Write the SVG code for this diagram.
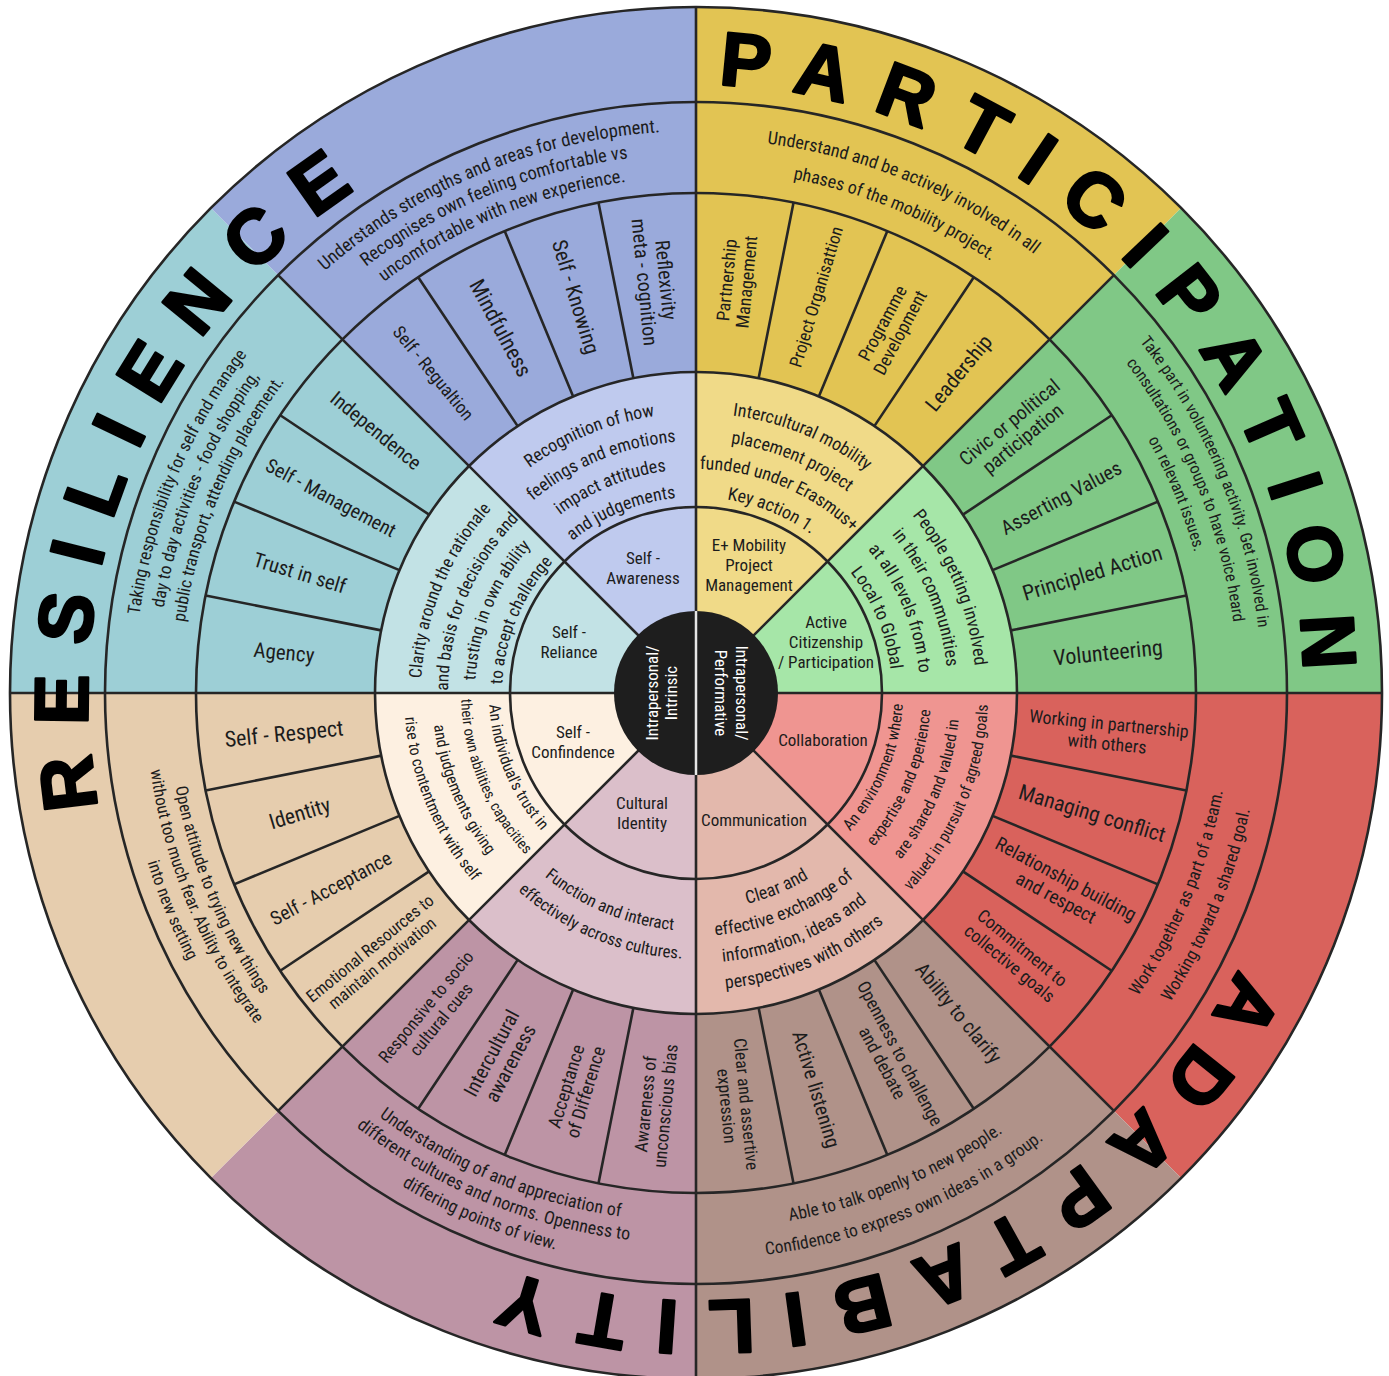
<svg xmlns="http://www.w3.org/2000/svg" width="1389" height="1376" viewBox="0 0 1389 1376">
<style>
.t{font-family:'Liberation Sans Narrow','Roboto Condensed','DejaVu Sans Condensed','Liberation Sans',Arial,sans-serif;fill:#1c1c1c}
.c{text-anchor:middle}
.big{font-family:'Liberation Sans',Arial,sans-serif;font-weight:bold;font-size:76px;letter-spacing:28px;fill:#000;stroke:#000;stroke-width:2.6;stroke-linejoin:round;text-anchor:middle}
.ln{stroke:#262626;stroke-width:2.6;fill:none}
.w{font-family:'Liberation Sans Narrow','Roboto Condensed','Liberation Sans',Arial,sans-serif;fill:#fff;font-size:17px;text-anchor:middle}
</style>
<defs>
<path id="cw608" d="M0,608 A608,608 0 0 1 0,-608 A608,608 0 0 1 0,608 A608,608 0 0 1 0,-608"/>
<path id="cw566" d="M0,566 A566,566 0 0 1 0,-566 A566,566 0 0 1 0,566 A566,566 0 0 1 0,-566"/>
<path id="cw562" d="M0,562 A562,562 0 0 1 0,-562 A562,562 0 0 1 0,562 A562,562 0 0 1 0,-562"/>
<path id="cw554" d="M0,554 A554,554 0 0 1 0,-554 A554,554 0 0 1 0,554 A554,554 0 0 1 0,-554"/>
<path id="cw542" d="M0,542 A542,542 0 0 1 0,-542 A542,542 0 0 1 0,542 A542,542 0 0 1 0,-542"/>
<path id="cw539" d="M0,539 A539,539 0 0 1 0,-539 A539,539 0 0 1 0,539 A539,539 0 0 1 0,-539"/>
<path id="cw523" d="M0,523 A523,523 0 0 1 0,-523 A523,523 0 0 1 0,523 A523,523 0 0 1 0,-523"/>
<path id="cw518" d="M0,518 A518,518 0 0 1 0,-518 A518,518 0 0 1 0,518 A518,518 0 0 1 0,-518"/>
<path id="cw516" d="M0,516 A516,516 0 0 1 0,-516 A516,516 0 0 1 0,516 A516,516 0 0 1 0,-516"/>
<path id="cw280" d="M0,280 A280,280 0 0 1 0,-280 A280,280 0 0 1 0,280 A280,280 0 0 1 0,-280"/>
<path id="cw252" d="M0,252 A252,252 0 0 1 0,-252 A252,252 0 0 1 0,252 A252,252 0 0 1 0,-252"/>
<path id="cw224" d="M0,224 A224,224 0 0 1 0,-224 A224,224 0 0 1 0,224 A224,224 0 0 1 0,-224"/>
<path id="cw196" d="M0,196 A196,196 0 0 1 0,-196 A196,196 0 0 1 0,196 A196,196 0 0 1 0,-196"/>
<path id="cw275" d="M0,275 A275,275 0 0 1 0,-275 A275,275 0 0 1 0,275 A275,275 0 0 1 0,-275"/>
<path id="cw248" d="M0,248 A248,248 0 0 1 0,-248 A248,248 0 0 1 0,248 A248,248 0 0 1 0,-248"/>
<path id="cw221" d="M0,221 A221,221 0 0 1 0,-221 A221,221 0 0 1 0,221 A221,221 0 0 1 0,-221"/>
<path id="cw194" d="M0,194 A194,194 0 0 1 0,-194 A194,194 0 0 1 0,194 A194,194 0 0 1 0,-194"/>
<path id="ccw536" d="M0,-536 A536,536 0 0 0 0,536 A536,536 0 0 0 0,-536 A536,536 0 0 0 0,536"/>
<path id="ccw566" d="M0,-566 A566,566 0 0 0 0,566 A566,566 0 0 0 0,-566 A566,566 0 0 0 0,566"/>
<path id="ccw529" d="M0,-529 A529,529 0 0 0 0,529 A529,529 0 0 0 0,-529 A529,529 0 0 0 0,529"/>
<path id="ccw551" d="M0,-551 A551,551 0 0 0 0,551 A551,551 0 0 0 0,-551 A551,551 0 0 0 0,551"/>
<path id="ccw574" d="M0,-574 A574,574 0 0 0 0,574 A574,574 0 0 0 0,-574 A574,574 0 0 0 0,574"/>
<path id="ccw207" d="M0,-207 A207,207 0 0 0 0,207 A207,207 0 0 0 0,-207 A207,207 0 0 0 0,207"/>
<path id="ccw235" d="M0,-235 A235,235 0 0 0 0,235 A235,235 0 0 0 0,-235 A235,235 0 0 0 0,235"/>
<path id="ccw264" d="M0,-264 A264,264 0 0 0 0,264 A264,264 0 0 0 0,-264 A264,264 0 0 0 0,264"/>
<path id="ccw292" d="M0,-292 A292,292 0 0 0 0,292 A292,292 0 0 0 0,-292 A292,292 0 0 0 0,292"/>
<path id="ccw217" d="M0,-217 A217,217 0 0 0 0,217 A217,217 0 0 0 0,-217 A217,217 0 0 0 0,217"/>
<path id="ccw243" d="M0,-243 A243,243 0 0 0 0,243 A243,243 0 0 0 0,-243 A243,243 0 0 0 0,243"/>
<path id="ccw270" d="M0,-270 A270,270 0 0 0 0,270 A270,270 0 0 0 0,-270 A270,270 0 0 0 0,270"/>
<path id="ccw297" d="M0,-297 A297,297 0 0 0 0,297 A297,297 0 0 0 0,-297 A297,297 0 0 0 0,297"/>
<path id="ccw238" d="M0,-238 A238,238 0 0 0 0,238 A238,238 0 0 0 0,-238 A238,238 0 0 0 0,238"/>
<path id="ccw266" d="M0,-266 A266,266 0 0 0 0,266 A266,266 0 0 0 0,-266 A266,266 0 0 0 0,266"/>
</defs>
<rect width="1389" height="1376" fill="#ffffff"/>
<g transform="translate(696,693)">

<g id="sec-e-mobility">
<path d="M0,0 L485.08,-485.08 A686,686 0 0 0 0,-686 Z" fill="#e2c453"/>
<path d="M0,0 L226.98,-226.98 A321,321 0 0 0 0,-321 Z" fill="#f0da88"/>
<text class="t c" font-size="17"><tspan x="53" y="-142">E+ Mobility</tspan><tspan x="53" y="-122">Project</tspan><tspan x="53" y="-102">Management</tspan></text>
<text class="t c" font-size="18"><textPath href="#cw280" startOffset="37.5%">Intercultural mobility</textPath></text>
<text class="t c" font-size="18"><textPath href="#cw252" startOffset="37.5%">placement project</textPath></text>
<text class="t c" font-size="18"><textPath href="#cw224" startOffset="37.5%">funded under Erasmus+</textPath></text>
<text class="t c" font-size="18"><textPath href="#cw196" startOffset="37.5%">Key action 1.</textPath></text>
<text class="t c" font-size="21" transform="translate(262.6,-320) rotate(-50.625)" y="7.3">Leadership</text>
<text class="t c" font-size="18" transform="translate(195.2,-365.1) rotate(-61.875)"><tspan x="0" y="-3.7">Programme</tspan><tspan x="0" y="16.3">Development</tspan></text>
<text class="t c" font-size="17.5" transform="translate(120.2,-396.2) rotate(-73.125)" y="6.1">Project Organisattion</text>
<text class="t c" font-size="18" transform="translate(40.6,-412) rotate(-84.375)"><tspan x="0" y="-3.7">Partnership</tspan><tspan x="0" y="16.3">Management</tspan></text>
<text class="t c" font-size="18"><textPath href="#cw554" startOffset="37.5%">Understand and be actively involved in all</textPath></text>
<text class="t c" font-size="18"><textPath href="#cw523" startOffset="37.5%">phases of the mobility project.</textPath></text>
</g>

<g id="sec-active-citizenship">
<path d="M0,0 L686,0 A686,686 0 0 0 485.08,-485.08 Z" fill="#80c886"/>
<path d="M0,0 L321,0 A321,321 0 0 0 226.98,-226.98 Z" fill="#a6e6a8"/>
<text class="t c" font-size="17"><tspan x="130" y="-65">Active</tspan><tspan x="130" y="-45">Citizenship</tspan><tspan x="130" y="-25">/ Participation</tspan></text>
<text class="t c" font-size="18"><textPath href="#cw280" startOffset="45.8333%">People getting involved</textPath></text>
<text class="t c" font-size="18"><textPath href="#cw252" startOffset="45.8333%">in their communities</textPath></text>
<text class="t c" font-size="18"><textPath href="#cw224" startOffset="45.8333%">at all levels from to</textPath></text>
<text class="t c" font-size="18"><textPath href="#cw196" startOffset="45.8333%">Local to Global</textPath></text>
<text class="t c" font-size="22" transform="translate(412,-40.6) rotate(-5.625)" y="7.7">Volunteering</text>
<text class="t c" font-size="21.5" transform="translate(396.2,-120.2) rotate(-16.875)" y="7.5">Principled Action</text>
<text class="t c" font-size="20" transform="translate(365.1,-195.2) rotate(-28.125)" y="7">Asserting Values</text>
<text class="t c" font-size="19.5" transform="translate(320,-262.6) rotate(-39.375)"><tspan x="0" y="-3.7">Civic or political</tspan><tspan x="0" y="17.3">participation</tspan></text>
<text class="t c" font-size="16.5"><textPath href="#cw566" startOffset="45.8333%">Take part in volunteering activity. Get involved in</textPath></text>
<text class="t c" font-size="16.5"><textPath href="#cw542" startOffset="45.8333%">consultations or groups to have voice heard</textPath></text>
<text class="t c" font-size="16.5"><textPath href="#cw518" startOffset="45.8333%">on relevant issues.</textPath></text>
</g>

<g id="sec-collaboration">
<path d="M0,0 L485.08,485.08 A686,686 0 0 0 686,0 Z" fill="#d9625c"/>
<path d="M0,0 L226.98,226.98 A321,321 0 0 0 321,0 Z" fill="#ef9591"/>
<text class="t c" font-size="17" x="127" y="53">Collaboration</text>
<text class="t c" font-size="16"><textPath href="#ccw207" startOffset="45.8333%">An environment where</textPath></text>
<text class="t c" font-size="16"><textPath href="#ccw235" startOffset="45.8333%">expertise and eperience</textPath></text>
<text class="t c" font-size="16"><textPath href="#ccw264" startOffset="45.8333%">are shared and valued in</textPath></text>
<text class="t c" font-size="16"><textPath href="#ccw292" startOffset="45.8333%">valued in pursuit of agreed goals</textPath></text>
<text class="t c" font-size="18" transform="translate(412,40.6) rotate(5.625)"><tspan x="0" y="-3.7">Working in partnership</tspan><tspan x="0" y="16.3">with others</tspan></text>
<text class="t c" font-size="21.5" transform="translate(396.2,120.2) rotate(16.875)" y="7.5">Managing conflict</text>
<text class="t c" font-size="19" transform="translate(365.1,195.2) rotate(28.125)"><tspan x="0" y="-3.85">Relationship building</tspan><tspan x="0" y="17.15">and respect</tspan></text>
<text class="t c" font-size="18" transform="translate(320,262.6) rotate(39.375)"><tspan x="0" y="-3.7">Commitment to</tspan><tspan x="0" y="16.3">collective goals</tspan></text>
<text class="t c" font-size="17.5"><textPath href="#ccw536" startOffset="45.8333%">Work together as part of a team.</textPath></text>
<text class="t c" font-size="17.5"><textPath href="#ccw566" startOffset="45.8333%">Working toward a shared goal.</textPath></text>
</g>

<g id="sec-communication">
<path d="M0,0 L0,686 A686,686 0 0 0 485.08,485.08 Z" fill="#b09289"/>
<path d="M0,0 L0,321 A321,321 0 0 0 226.98,226.98 Z" fill="#e3b8ac"/>
<text class="t c" font-size="17" x="58" y="133">Communication</text>
<text class="t c" font-size="18"><textPath href="#ccw217" startOffset="37.5%">Clear and</textPath></text>
<text class="t c" font-size="18"><textPath href="#ccw243" startOffset="37.5%">effective exchange of</textPath></text>
<text class="t c" font-size="18"><textPath href="#ccw270" startOffset="37.5%">information, ideas and</textPath></text>
<text class="t c" font-size="18"><textPath href="#ccw297" startOffset="37.5%">perspectives with others</textPath></text>
<text class="t c" font-size="20" transform="translate(262.6,320) rotate(50.625)" y="7">Ability to clarify</text>
<text class="t c" font-size="18" transform="translate(195.2,365.1) rotate(61.875)"><tspan x="0" y="-3.7">Openness to challenge</tspan><tspan x="0" y="16.3">and debate</tspan></text>
<text class="t c" font-size="20" transform="translate(120.2,396.2) rotate(73.125)" y="7">Active listening</text>
<text class="t c" font-size="17.5" transform="translate(40.6,412) rotate(84.375)"><tspan x="0" y="-3.6">Clear and assertive</tspan><tspan x="0" y="15.9">expression</tspan></text>
<text class="t c" font-size="17.5"><textPath href="#ccw536" startOffset="37.5%">Able to talk openly to new people.</textPath></text>
<text class="t c" font-size="17.5"><textPath href="#ccw566" startOffset="37.5%">Confidence to express own ideas in a group.</textPath></text>
</g>

<g id="sec-cultural-identity">
<path d="M0,0 L-485.08,485.08 A686,686 0 0 0 0,686 Z" fill="#bd94a5"/>
<path d="M0,0 L-226.98,226.98 A321,321 0 0 0 0,321 Z" fill="#dbbfca"/>
<text class="t c" font-size="17"><tspan x="-54" y="116">Cultural</tspan><tspan x="-54" y="136">Identity</tspan></text>
<text class="t c" font-size="17"><textPath href="#ccw238" startOffset="29.1667%">Function and interact</textPath></text>
<text class="t c" font-size="17"><textPath href="#ccw266" startOffset="29.1667%">effectively across cultures.</textPath></text>
<text class="t c" font-size="17.5" transform="translate(-262.6,320) rotate(-50.625)"><tspan x="0" y="-3.6">Responsive to socio</tspan><tspan x="0" y="15.9">cultural cues</tspan></text>
<text class="t c" font-size="20" transform="translate(-195.2,365.1) rotate(-61.875)"><tspan x="0" y="-3.75">Intercultural</tspan><tspan x="0" y="17.75">awareness</tspan></text>
<text class="t c" font-size="18.5" transform="translate(-120.2,396.2) rotate(-73.125)"><tspan x="0" y="-3.75">Acceptance</tspan><tspan x="0" y="16.75">of Difference</tspan></text>
<text class="t c" font-size="18" transform="translate(-40.6,412) rotate(-84.375)"><tspan x="0" y="-3.7">Awareness of</tspan><tspan x="0" y="16.3">unconscious bias</tspan></text>
<text class="t c" font-size="18"><textPath href="#ccw529" startOffset="29.1667%">Understanding of and appreciation of</textPath></text>
<text class="t c" font-size="18"><textPath href="#ccw551" startOffset="29.1667%">different cultures and norms. Openness to</textPath></text>
<text class="t c" font-size="18"><textPath href="#ccw574" startOffset="29.1667%">differing points of view.</textPath></text>
</g>

<g id="sec-self-confidence">
<path d="M0,0 L-686,0 A686,686 0 0 0 -485.08,485.08 Z" fill="#e6cdae"/>
<path d="M0,0 L-321,0 A321,321 0 0 0 -226.98,226.98 Z" fill="#fdf0e1"/>
<text class="t c" font-size="17"><tspan x="-123" y="45">Self -</tspan><tspan x="-123" y="65">Confindence</tspan></text>
<text class="t c" font-size="16"><textPath href="#ccw207" startOffset="20.8333%">An individual's trust in</textPath></text>
<text class="t c" font-size="15"><textPath href="#ccw235" startOffset="20.8333%">their own abilities, capacities</textPath></text>
<text class="t c" font-size="16"><textPath href="#ccw264" startOffset="20.8333%">and judgements  giving</textPath></text>
<text class="t c" font-size="16"><textPath href="#ccw292" startOffset="20.8333%">rise to contentment with self</textPath></text>
<text class="t c" font-size="22" transform="translate(-412,40.6) rotate(-5.625)" y="7.7">Self - Respect</text>
<text class="t c" font-size="21.5" transform="translate(-396.2,120.2) rotate(-16.875)" y="7.5">Identity</text>
<text class="t c" font-size="19.5" transform="translate(-365.1,195.2) rotate(-28.125)" y="6.8">Self - Acceptance</text>
<text class="t c" font-size="17" transform="translate(-320,262.6) rotate(-39.375)"><tspan x="0" y="-3.55">Emotional Resources to</tspan><tspan x="0" y="15.45">maintain motivation</tspan></text>
<text class="t c" font-size="17"><textPath href="#ccw529" startOffset="20.8333%">Open attitude to trying new things</textPath></text>
<text class="t c" font-size="17"><textPath href="#ccw551" startOffset="20.8333%">without too much fear. Ability to integrate</textPath></text>
<text class="t c" font-size="17"><textPath href="#ccw574" startOffset="20.8333%">into new setting</textPath></text>
</g>

<g id="sec-self-reliance">
<path d="M0,0 L-485.08,-485.08 A686,686 0 0 0 -686,0 Z" fill="#9dcfd6"/>
<path d="M0,0 L-226.98,-226.98 A321,321 0 0 0 -321,0 Z" fill="#c2e2e5"/>
<text class="t c" font-size="17"><tspan x="-127" y="-55">Self -</tspan><tspan x="-127" y="-35">Reliance</tspan></text>
<text class="t c" font-size="17.5"><textPath href="#cw275" startOffset="20.8333%">Clarity around the rationale</textPath></text>
<text class="t c" font-size="17.5"><textPath href="#cw248" startOffset="20.8333%">and basis for decisions and</textPath></text>
<text class="t c" font-size="17.5"><textPath href="#cw221" startOffset="20.8333%">trusting  in own ability</textPath></text>
<text class="t c" font-size="17.5"><textPath href="#cw194" startOffset="20.8333%">to accept challenge</textPath></text>
<text class="t c" font-size="20" transform="translate(-320,-262.6) rotate(39.375)" y="7">Independence</text>
<text class="t c" font-size="19.5" transform="translate(-365.1,-195.2) rotate(28.125)" y="6.8">Self - Management</text>
<text class="t c" font-size="20.5" transform="translate(-396.2,-120.2) rotate(16.875)" y="7.2">Trust in self</text>
<text class="t c" font-size="21" transform="translate(-412,-40.6) rotate(5.625)" y="7.3">Agency</text>
<text class="t c" font-size="17.5"><textPath href="#cw562" startOffset="20.8333%">Taking responsibility for self and manage</textPath></text>
<text class="t c" font-size="17.5"><textPath href="#cw539" startOffset="20.8333%">day to day activities - food shopping,</textPath></text>
<text class="t c" font-size="17.5"><textPath href="#cw516" startOffset="20.8333%">public transport, attending placement.</textPath></text>
</g>

<g id="sec-self-awareness">
<path d="M0,0 L0,-686 A686,686 0 0 0 -485.08,-485.08 Z" fill="#9aaadb"/>
<path d="M0,0 L0,-321 A321,321 0 0 0 -226.98,-226.98 Z" fill="#bfcaee"/>
<text class="t c" font-size="17"><tspan x="-53" y="-129">Self -</tspan><tspan x="-53" y="-109">Awareness</tspan></text>
<text class="t c" font-size="18"><textPath href="#cw280" startOffset="29.1667%">Recognition of how</textPath></text>
<text class="t c" font-size="18"><textPath href="#cw252" startOffset="29.1667%">feelings and emotions</textPath></text>
<text class="t c" font-size="18"><textPath href="#cw224" startOffset="29.1667%">impact attitudes</textPath></text>
<text class="t c" font-size="18"><textPath href="#cw196" startOffset="29.1667%">and judgements</textPath></text>
<text class="t c" font-size="20" transform="translate(-40.6,-412) rotate(84.375)"><tspan x="0" y="-3.75">Reflexivity</tspan><tspan x="0" y="17.75">meta - cognition</tspan></text>
<text class="t c" font-size="21" transform="translate(-120.2,-396.2) rotate(73.125)" y="7.3">Self - Knowing</text>
<text class="t c" font-size="22" transform="translate(-195.2,-365.1) rotate(61.875)" y="7.7">Mindfulness</text>
<text class="t c" font-size="18" transform="translate(-262.6,-320) rotate(50.625)" y="6.3">Self - Regualtion</text>
<text class="t c" font-size="18.5"><textPath href="#cw562" startOffset="29.1667%">Understands strengths and areas for development.</textPath></text>
<text class="t c" font-size="18.5"><textPath href="#cw539" startOffset="29.1667%">Recognises own feeling comfortable vs</textPath></text>
<text class="t c" font-size="18.5"><textPath href="#cw516" startOffset="29.1667%">uncomfortable with new experience.</textPath></text>
</g>

<g id="connectors" class="ln">
<circle r="186"/><circle r="321"/><circle r="500"/><circle r="591"/><circle r="686"/>
<path d="M-686,0 H686 M0,-686 V686"/>
<path d="M0,0 L417.9,-417.9 M0,0 L-417.9,-417.9 M0,0 L-417.9,417.9 M0,0 L417.9,417.9"/>
<path d="M314.83,-62.62 L490.40,-97.55 M296.57,-122.84 L461.94,-191.34 M266.90,-178.34 L415.74,-277.79 M178.34,-266.90 L277.79,-415.74 M122.84,-296.57 L191.34,-461.94 M62.62,-314.83 L97.55,-490.40"/>
<path d="M-314.83,-62.62 L-490.40,-97.55 M-296.57,-122.84 L-461.94,-191.34 M-266.90,-178.34 L-415.74,-277.79 M-178.34,-266.90 L-277.79,-415.74 M-122.84,-296.57 L-191.34,-461.94 M-62.62,-314.83 L-97.55,-490.40"/>
<path d="M-314.83,62.62 L-490.40,97.55 M-296.57,122.84 L-461.94,191.34 M-266.90,178.34 L-415.74,277.79 M-178.34,266.90 L-277.79,415.74 M-122.84,296.57 L-191.34,461.94 M-62.62,314.83 L-97.55,490.40"/>
<path d="M314.83,62.62 L490.40,97.55 M296.57,122.84 L461.94,191.34 M266.90,178.34 L415.74,277.79 M178.34,266.90 L277.79,415.74 M122.84,296.57 L191.34,461.94 M62.62,314.83 L97.55,490.40"/>
</g>

<g id="center">
<circle r="82" fill="#1e1e1e"/>
<path d="M0,-82 V82" stroke="#e6e6e6" stroke-width="2.5"/>
<text class="w" transform="rotate(-90)"><tspan x="0" y="-38">Intrapersonal/</tspan><tspan x="0" y="-19">Intrinsic</tspan></text>
<text class="w" transform="rotate(90)"><tspan x="0" y="-40">Intrapersonal/</tspan><tspan x="0" y="-19">Performative</tspan></text>
</g>

<g id="titles">
<text class="big"><textPath href="#cw608" startOffset="41.91%">PARTICIPATION</textPath></text>
<text class="big"><textPath href="#cw608" startOffset="21.08%">RESILIENCE</textPath></text>
<text class="big"><textPath href="#cw608" startOffset="62.74%">ADAPTABILITY</textPath></text>
</g>
</g>
</svg>
